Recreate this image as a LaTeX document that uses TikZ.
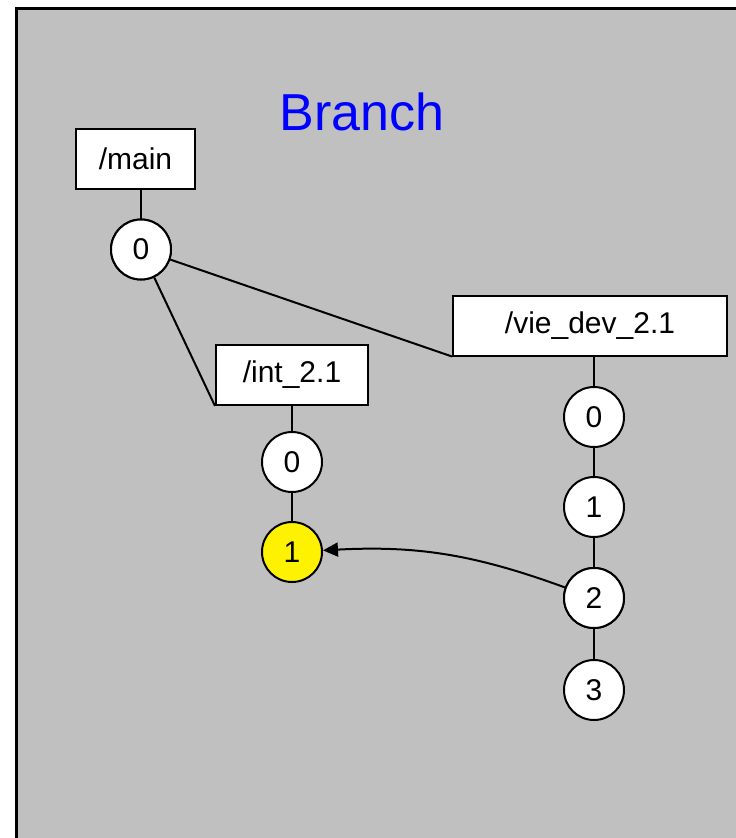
\documentclass[tikz,border=0pt]{standalone}
\usepackage{fontspec}
\setmainfont{Liberation Sans}
\usetikzlibrary{arrows.meta}
\definecolor{panelgray}{RGB}{192,192,192}
\tikzset{
  lbl/.style={draw=black, line width=2pt, fill=white, minimum height=60pt, inner sep=0pt, font=\fontsize{30}{36}\selectfont},
  rev/.style={draw=black, line width=2pt, fill=white, circle, minimum size=60pt, inner sep=0pt, font=\fontsize{30}{36}\selectfont},
  link/.style={line width=2pt, draw=black},
}
\begin{document}
\begin{tikzpicture}[x=1pt,y=-1pt]
  \useasboundingbox (0,0) rectangle (736,838);
  % panel
  \fill[panelgray] (16,8) rectangle (745,848);
  \draw[line width=3pt] (16,848) -- (16,8) -- (745,8);
  % title
  \node[text=blue, font=\fontsize{52}{60}\selectfont, anchor=base] (title) at (362,130) {Branch};
  % main branch
  \node[lbl, minimum width=119pt] (mainbox) at (135.5,159) {/main};
  \node[rev] (m0) at (141,249.5) {0};
  % int branch
  \node[lbl, minimum width=152pt] (intbox) at (292,375) {/int\_2.1};
  \node[rev] (i0) at (292,462) {0};
  \node[rev, fill=yellow] (i1) at (292,552) {1};
  % vie_dev branch
  \node[lbl, minimum width=274pt] (viebox) at (590,325.5) {/vie\_dev\_2.1};
  \node[rev] (v0) at (594,417) {0};
  \node[rev] (v1) at (594,507) {1};
  \node[rev] (v2) at (594,598) {2};
  \node[rev] (v3) at (594,690) {3};
  % connectors
  \draw[link] (m0.north) -- (m0.north |- mainbox.south);
  \draw[link] (m0) -- (intbox.south west);
  \draw[link] (m0) -- (viebox.south west);
  \draw[link] (intbox.south) -- (i0);
  \draw[link] (i0) -- (i1);
  \draw[link] (v0.north) -- (v0.north |- viebox.south);
  \draw[link] (v0) -- (v1);
  \draw[link] (v1) -- (v2);
  \draw[link] (v2) -- (v3);
  \draw[link, -{Triangle[length=15pt,width=14pt]}] (v2) to[out=160,in=3] (i1);
  % redraw circles over the lines ending at their centres
  \node[rev] at (m0) {0};
  \node[rev] at (v2) {2};
\end{tikzpicture}
\end{document}
